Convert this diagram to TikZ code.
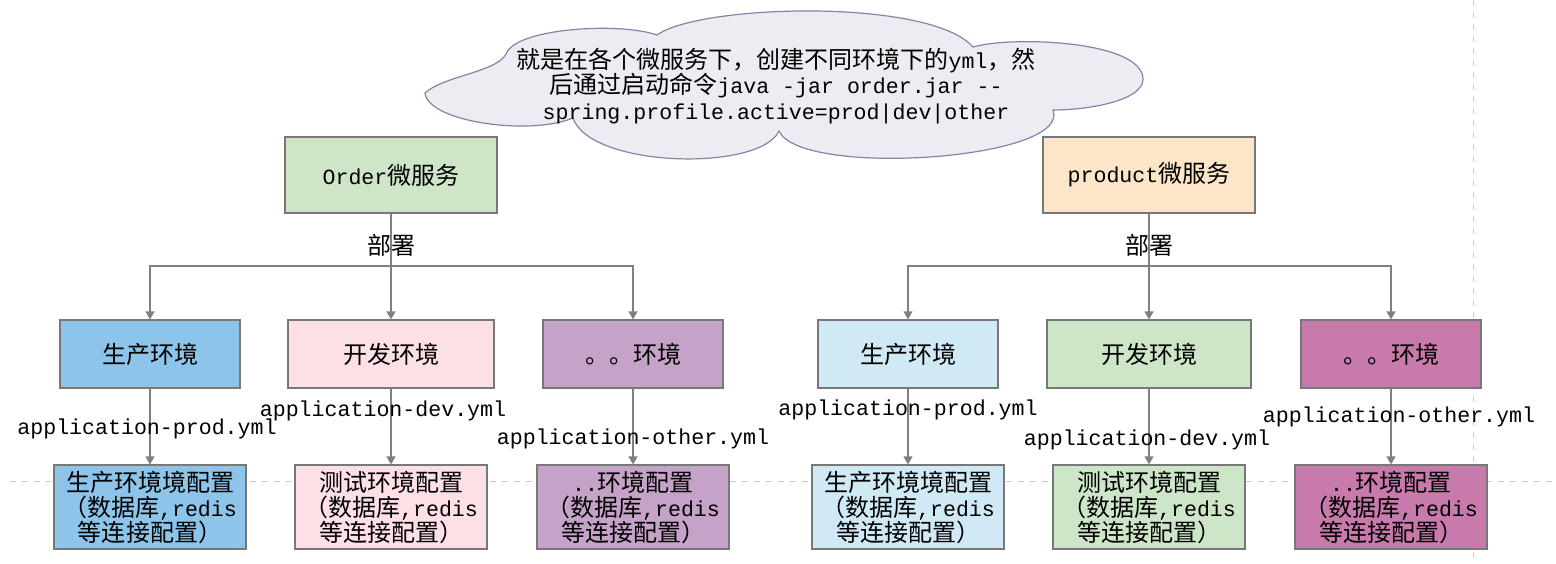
\documentclass[tikz,border=0pt]{standalone}
\usepackage{fontspec}
\setmainfont{Noto Sans CJK SC}
\setmonofont{Liberation Mono}[Scale=0.9]
\usetikzlibrary{arrows.meta, positioning}

\definecolor{linegray}{RGB}{128,128,128}
\definecolor{boxgray}{RGB}{120,120,120}
\definecolor{guidegray}{RGB}{200,200,200}
\definecolor{cloudfill}{RGB}{238,236,243}
\definecolor{cloudline}{RGB}{140,128,165}
\definecolor{ordgreen}{RGB}{206,230,199}
\definecolor{prdpeach}{RGB}{252,229,200}
\definecolor{envblue}{RGB}{140,196,234}
\definecolor{envpink}{RGB}{253,224,230}
\definecolor{envpurple}{RGB}{197,162,199}
\definecolor{envsky}{RGB}{207,233,245}
\definecolor{envgreen}{RGB}{206,230,200}
\definecolor{envmagenta}{RGB}{201,122,172}

\begin{document}
\begin{tikzpicture}[
        x=0.5pt, y=-0.5pt,
        font=\fontsize{12}{12.5}\selectfont,
        box/.style={rectangle, draw=boxgray, line width=0.6pt, inner sep=0pt, align=center},
        svc/.style={box, minimum width=106pt, minimum height=38pt},
        env/.style={box, minimum height=34pt},
        conf/.style={box, minimum width=96pt, minimum height=42pt},
        arrow/.style={-{Triangle[length=4pt,width=4.5pt]}, draw=linegray, line width=0.6pt},
        yml/.style={font=\fontsize{12}{12.5}\selectfont\ttfamily, inner sep=0pt},
        guide/.style={draw=guidegray, dashed, line width=0.4pt},
        bubble/.style={draw=cloudline, fill=cloudfill, line width=0.6pt}
    ]
        \useasboundingbox (0,0) rectangle (1556,563);

        % Page guides
        \draw[guide] (10,481) -- (1556,481);
        \draw[guide] (1473,0) -- (1473,563);

        % Note cloud
        \draw[bubble] (425,93) .. controls (445,75) and (500,72) .. (507,52)
            .. controls (520,28) and (620,22) .. (657,35)
            .. controls (700,4) and (930,-2) .. (973,47)
            .. controls (1010,36) and (1140,40) .. (1143,78)
            .. controls (1145,100) and (1090,110) .. (1053,110)
            .. controls (1072,160) and (800,178) .. (779,131)
            .. controls (760,172) and (590,168) .. (573,118)
            .. controls (530,136) and (428,122) .. cycle;
        \node[align=center, font=\fontsize{12}{12.75}\selectfont] (notetext) at (776,86)
            {就是在各个微服务下，创建不同环境下的\texttt{yml}，然\\
             后通过启动命令\texttt{java -jar order.jar --}\\
             \texttt{spring.profile.active=prod|dev|other}};

        % Services
        \node[svc, fill=ordgreen] (ord) at (391,175) {\texttt{Order}微服务};
        \node[svc, fill=prdpeach] (prd) at (1149,175) {\texttt{product}微服务};
        \coordinate (ojoint) at (391,266);
        \coordinate (pjoint) at (1149,266);
        \node (odep) at (391,245) {部署};
        \node (pdep) at (1149,245) {部署};

        % Environments
        \foreach \n/\x/\w/\c/\t in {oe1/150/90pt/envblue/生产环境, oe2/391/103pt/envpink/开发环境,
                oe3/633/90pt/envpurple/。。环境, pe1/908/90pt/envsky/生产环境,
                pe2/1149/102pt/envgreen/开发环境, pe3/1391/90pt/envmagenta/。。环境} {
            \node[env, minimum width=\w, fill=\c] (\n) at (\x,354) {\t};
        }

        % Configs
        \foreach \n/\x/\c/\t in {oc1/150/envblue/生产环境境配置, oc2/391/envpink/测试环境配置,
                oc3/633/envpurple/\texttt{..}环境配置, pc1/908/envsky/生产环境境配置,
                pc2/1149/envgreen/测试环境配置, pc3/1391/envmagenta/\texttt{..}环境配置} {
            \node[conf, fill=\c] (\n) at (\x,507) {\t\\（数据库\texttt{,redis}\\等连接配置）};
        }

        % Deploy
        \draw[arrow] (ord) -- (oe2);
        \draw[arrow] (ojoint) -| (oe1.north);
        \draw[arrow] (ojoint) -| (oe3.north);
        \draw[arrow] (prd) -- (pe2);
        \draw[arrow] (pjoint) -| (pe1.north);
        \draw[arrow] (pjoint) -| (pe3.north);

        % Profiles
        \foreach \a/\b/\p/\s/\t in {oe1/oc1/0.53/-1.5pt/application-prod.yml, oe2/oc2/0.29/-4pt/application-dev.yml,
                oe3/oc3/0.67/0pt/application-other.yml, pe1/pc1/0.28/0pt/application-prod.yml,
                pe2/pc2/0.68/-1pt/application-dev.yml, pe3/pc3/0.37/4pt/application-other.yml} {
            \draw[arrow] (\a) -- node[yml, pos=\p, xshift=\s] {\t} (\b);
        }
    \end{tikzpicture}
\end{document}
